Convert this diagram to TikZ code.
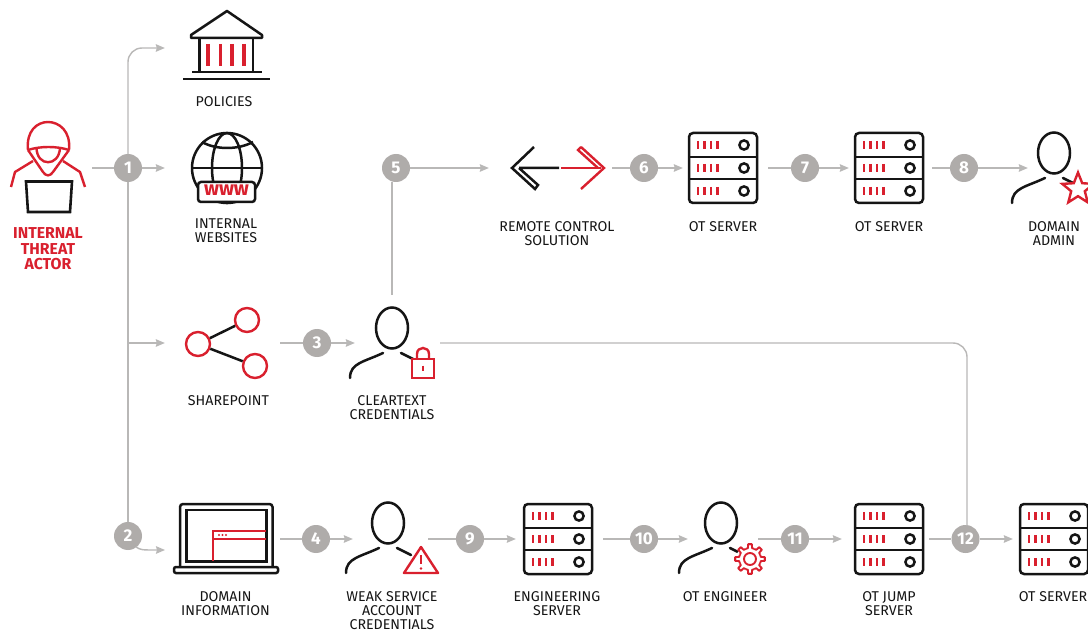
\documentclass[tikz,border=0pt]{standalone}
\usepackage{fontspec}
\setmainfont{Fira Sans}
\usetikzlibrary{arrows.meta,shapes.geometric}
\definecolor{rd}{HTML}{D9202E}
\definecolor{gy}{HTML}{B9B8B7}
\definecolor{bd}{HTML}{AFACAA}
\definecolor{ink}{HTML}{151515}
\tikzset{
  x=1pt,y=-1pt,
  conn/.style={draw=gy,line width=1.4pt},
  arr/.style={conn,-{Stealth[length=9pt,width=7.5pt,inset=1pt]}},
  badge/.style={circle,fill=bd,text=white,inner sep=0pt,minimum size=28pt,font=\fontsize{17}{17}\selectfont\bfseries},
  ibox/.style 2 args={inner sep=0pt,minimum width=#1pt,minimum height=#2pt},
  lbl/.style={anchor=north,align=center,inner sep=0pt,text=ink,font=\fontsize{14.2}{14}\selectfont},
  blk/.style={draw=ink,line width=2.5pt},
  red/.style={draw=rd,line width=2.4pt},
  serverpic/.pic={
    \draw[blk,rounded corners=4pt] (-34,-35) rectangle (34,35);
    \draw[blk] (-34,-11) -- (34,-11) (-34,11) -- (34,11);
    \foreach \yy in {-23,0,23}{
      \foreach \xx in {-25,-18.5,-12,-5.5}{\draw[rd,line width=2.8pt] (\xx,\yy-4) -- (\xx,\yy+4);}
      \draw[blk] (21,\yy) circle (4.6);
    }
  },
  personpic/.pic={
    \draw[blk] (0,0) ellipse (16 and 20.5);
    \draw[blk,line cap=round] (-42,50) .. controls (-42,35) and (-28,34) .. (-9,25);
    \draw[blk,line cap=round] (9,25) -- (23,32);
  }
}
\begin{document}
\begin{tikzpicture}
\useasboundingbox (0,0) rectangle (1088,631);
\fill[white] (0,0) rectangle (1088,631);
\clip (0,0) rectangle (1088,631);

% anchor boxes (sides = connector ends)
\node[ibox={88}{90}] (actor) at (48,168) {};
\node[ibox={105}{70}] (policies) at (217.5,48) {};
\node[ibox={97}{70}] (websites) at (213.5,168) {};
\node[ibox={115}{70}] (share) at (222.5,343) {};
\node[ibox={85}{96}] (cred) at (397.5,343) {};
\node[ibox={123}{60}] (remote) at (550.5,168) {};
\node[ibox={85}{70}] (srva) at (725.5,168) {};
\node[ibox={83}{70}] (srvb) at (890.5,168) {};
\node[ibox={72}{70}] (admin) at (1064,168) {};
\node[ibox={115}{70}] (domain) at (222.5,539) {};
\node[ibox={75}{70}] (weak) at (390.5,539) {};
\node[ibox={87}{70}] (eng) at (559.5,539) {};
\node[ibox={70}{70}] (engr) at (723,539) {};
\node[ibox={87}{70}] (jump) at (885.5,539) {};
\node[ibox={87}{70}] (srvc) at (1056.5,539) {};

% badges
\node[badge] (b1) at (128,168) {1};
\node[badge] (b2) at (128,536) {2};
\node[badge] (b3) at (317,343) {3};
\node[badge] (b4) at (316,539) {4};
\node[badge] (b5) at (396,168) {5};
\node[badge] (b6) at (644,168) {6};
\node[badge] (b7) at (805,168) {7};
\node[badge] (b8) at (964,168) {8};
\node[badge] (b9) at (470,539) {9};
\node[badge] (b10) at (644,539) {10};
\node[badge] (b11) at (795,539) {11};
\node[badge] (b12) at (965.5,539) {12};

% connector free ends
\coordinate (branch) at (128,343);
\coordinate (credtop) at (392,295);
\coordinate (credup) at (392,182);
\coordinate (twelve) at (967,526);
\coordinate (leave) at (136,547);
\coordinate (leavec) at (141,550);
\coordinate (domin) at (165,550);

% connectors
\draw[conn] (actor.east) -- (b1);
\draw[arr] (b1) -- (websites.west);
\draw[arr,rounded corners=14pt] (b1.north) |- (policies.west);
\draw[conn] (b1) -- (b2);
\draw[arr] (branch) -- (share.west);
\draw[arr] (leave) .. controls (leavec) .. (domin);
\draw[conn] (share.east) -- (b3);
\draw[arr] (b3) -- (cred.west);
\draw[conn] (credtop) -- (credup);
\draw[arr] (b5) -- (remote.west);
\draw[conn] (remote.east) -- (b6);
\draw[arr] (b6) -- (srva.west);
\draw[conn] (srva.east) -- (b7);
\draw[arr] (b7) -- (srvb.west);
\draw[conn] (srvb.east) -- (b8);
\draw[arr] (b8) -- (admin.west);
\draw[conn] (domain.east) -- (b4);
\draw[arr] (b4) -- (weak.west);
\draw[conn] (weak.east) -- (b9);
\draw[arr] (b9) -- (eng.west);
\draw[conn] (eng.east) -- (b10);
\draw[arr] (b10) -- (engr.west);
\draw[conn] (engr.east) -- (b11);
\draw[arr] (b11) -- (jump.west);
\draw[conn] (jump.east) -- (b12);
\draw[arr] (b12) -- (srvc.west);
\draw[conn,rounded corners=14pt] (cred.east) -| (twelve);

% actor
\draw[red,line join=round] (28,150) .. controls (26,131) and (37,122) .. (48,122) .. controls (59,122) and (71,131) .. (69,150);
\draw[red] (28,150) .. controls (40,146) and (57,146) .. (69,150);
\draw[red,line join=round] (28,150) -- (43,172) .. controls (46,176.5) and (50,176.5) .. (53,172) -- (69,150);
\draw[red] (36.5,148) .. controls (37,167) and (59,167) .. (60,148);
\draw[red,line join=round] (33,161) -- (15,172) -- (11,187);
\draw[red,line join=round] (63,161) -- (80,172) -- (85,187);
\draw[blk,line width=2.6pt,line join=miter] (26,181.5) -- (72,181.5) -- (70,212) -- (28,212) -- cycle;
\node[lbl,text=rd,font=\fontsize{15.8}{15.5}\selectfont\bfseries] (actortxt) at (48,227.5) {INTERNAL\\THREAT\\ACTOR};

% policies icon
\draw[blk,line join=round] (191,38) -- (191,35) -- (227,11) -- (262,35) -- (262,38) -- cycle;
\draw[blk] (199.5,38) -- (199.5,72) (253,38) -- (253,72);
\draw[blk] (192,72) -- (262,72);
\draw[blk,line width=2.8pt] (183,79) -- (270,79);
\foreach \xx in {208,220.5,232,244}{\draw[rd,line width=3.2pt] (\xx,44) -- (\xx,66);}
\node[lbl] (tpol) at (224,96) {POLICIES};

% websites icon
\draw[blk] (227,168) circle (35);
\draw[blk] (227,168) ellipse (15 and 35);
\draw[blk] (192,168) -- (262,168);
\draw[blk] (202,142) .. controls (216,150) and (238,150) .. (253,142);
\draw[blk,fill=white,rounded corners=3pt] (198,182) rectangle (255,202);
\node[inner sep=0pt,text=rd,font=\fontsize{20}{20}\selectfont\bfseries] (www) at (226.5,190) {www};
\node[lbl] (tweb) at (226,219) {INTERNAL\\WEBSITES};

% sharepoint icon
\node[circle,red,inner sep=0pt,minimum size=24pt] (sa) at (198,344) {};
\node[circle,red,inner sep=0pt,minimum size=24pt] (sb) at (247,320) {};
\node[circle,red,inner sep=0pt,minimum size=24pt] (sc) at (255,366) {};
\draw[blk] (sa) -- (sb);
\draw[blk] (sa) -- (sc);
\node[lbl] (tshare) at (228.5,395) {SHAREPOINT};

% cleartext
\pic at (392,328) {personpic};
\draw[red,fill=white] (412,359) rectangle (434,378);
\draw[red] (417,359) -- (417,354) .. controls (417,346) and (429,346) .. (429,354) -- (429,359);
\draw[rd,line width=1.8pt] (423,365.5) -- (423,371);
\node[lbl] (tcred) at (392,395) {CLEARTEXT\\CREDENTIALS};

% remote control
\draw[blk,line join=miter] (534,147) -- (512,168) -- (535,189) -- (538,185) -- (519,168) (519,168) -- (559,168);
\draw[red,line join=miter] (581,147) -- (604,168) -- (581,189);
\draw[red] (581,147) -- (578,150) -- (598,168);
\draw[red] (561,168) -- (601,168);
\node[lbl] (trem) at (557,221) {REMOTE CONTROL\\SOLUTION};

% servers
\pic at (723,168) {serverpic};
\node[lbl] (tsa) at (723,221) {OT SERVER};
\pic at (889,168) {serverpic};
\node[lbl] (tsb) at (889,221) {OT SERVER};
\pic at (558,539) {serverpic};
\node[lbl] (teng) at (557,591) {ENGINEERING\\SERVER};
\pic at (889,539) {serverpic};
\node[lbl] (tjump) at (889,591) {OT JUMP\\SERVER};
\pic at (1054,539) {serverpic};
\node[lbl] (tsc) at (1053,591) {OT SERVER};

% domain admin
\pic at (1054,153) {personpic};
\node[star,star points=5,star point ratio=2.3,inner sep=0pt,minimum size=33pt,red,fill=white] (st) at (1078,189) {};
\node[lbl] (tadm) at (1054,221) {DOMAIN\\ADMIN};

% domain info
\draw[blk,rounded corners=3pt] (180,567) -- (180,504) -- (272.5,504) -- (272.5,567);
\draw[blk] (186.5,510) rectangle (266.5,561.5);
\draw[blk,rounded corners=2pt] (174,567) rectangle (278,573);
\draw[rd,line width=2pt] (213,561) -- (213,531) -- (266,531) (213,539) -- (266,539);
\foreach \xx in {219,222.5,226}{\fill[rd] (\xx,535) circle (1.1);}
\node[lbl] (tdom) at (225.5,591) {DOMAIN\\INFORMATION};

% weak
\pic at (388,523) {personpic};
\draw[red,fill=white,line join=round] (421,547) -- (438,573) -- (404,573) -- cycle;
\draw[rd,line width=2.4pt] (421,555) -- (421,564);
\fill[rd] (421,568.5) circle (1.4);
\node[lbl] (tweak) at (392,591) {WEAK SERVICE\\ACCOUNT\\CREDENTIALS};

% engineer
\pic at (721,523) {personpic};
\begin{scope}[shift={(750,559)}]
\fill[white] (0,0) circle (14);
\foreach \a in {0,45,...,315}{
  \draw[rd,line width=1.9pt,line join=round] (\a-22.5:11) -- (\a-11:11) -- (\a-7:15) -- (\a+7:15) -- (\a+11:11) -- (\a+22.5:11);
}
\draw[rd,line width=1.9pt] (0,0) circle (6);
\end{scope}
\node[lbl] (tengr) at (725,591) {OT ENGINEER};
\end{tikzpicture}
\end{document}
